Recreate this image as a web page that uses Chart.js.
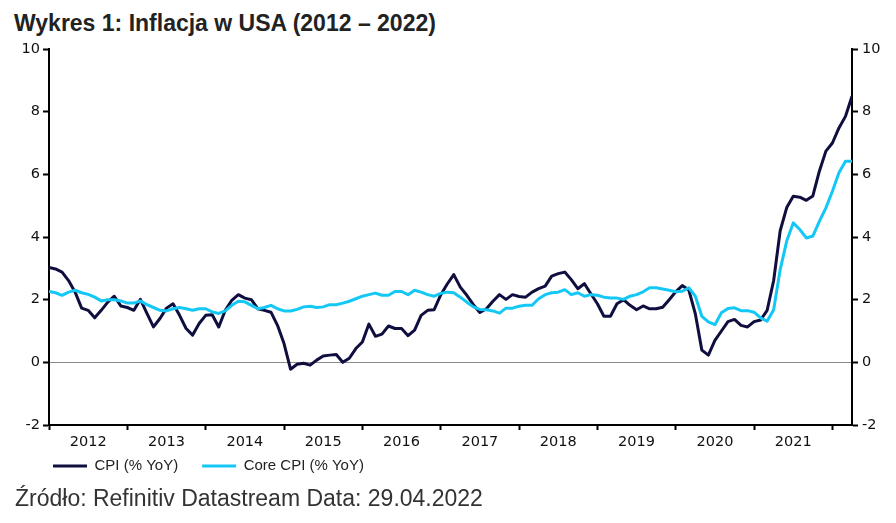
<!DOCTYPE html>
<html>
<head>
<meta charset="utf-8">
<script src="https://cdn.jsdelivr.net/npm/chart.js@4"></script>
<style>
  html, body { margin: 0; padding: 0; background: #fff; }
  body { width: 896px; height: 523px; position: relative; overflow: hidden; }
  #chart { position: absolute; left: 0; top: 0; }
  .title { position: absolute; left: 14px; top: 12px; font: bold 23px "Liberation Sans", Arial, sans-serif; line-height: 23px; color: #222; white-space: nowrap; }
  .source { position: absolute; left: 15px; top: 487px; font: 23px "Liberation Sans", Arial, sans-serif; line-height: 23px; color: #333; white-space: nowrap; }
</style>
</head>
<body>
<div class="title">Wykres 1: Inflacja w USA (2012 – 2022)</div>
<canvas id="chart" width="896" height="523"></canvas>
<div class="source">Źródło: Refinitiv Datastream Data: 29.04.2022</div>
<script>
// monthly, Dec 2011 .. Mar 2022
const years = ['2012', '2013', '2014', '2015', '2016', '2017', '2018', '2019', '2020', '2021'];

const cpi = [
    3.03,
    2.98, 2.88, 2.61, 2.24, 1.73, 1.66, 1.42, 1.66, 1.92, 2.11, 1.80, 1.75,
    1.66, 2.01, 1.56, 1.13, 1.40, 1.73, 1.87, 1.50, 1.08, 0.87, 1.24, 1.50,
    1.52, 1.13, 1.66, 1.98, 2.16, 2.05, 2.00, 1.71, 1.66, 1.60, 1.18, 0.60,
    -0.22, -0.06, -0.03, -0.09, 0.07, 0.20, 0.23, 0.25, 0.00, 0.13, 0.44, 0.65,
    1.22, 0.83, 0.90, 1.16, 1.08, 1.08, 0.85, 1.03, 1.50, 1.66, 1.68, 2.15,
    2.50, 2.80, 2.40, 2.14, 1.84, 1.59, 1.71, 1.95, 2.16, 2.01, 2.16, 2.10,
    2.08, 2.24, 2.35, 2.43, 2.75, 2.83, 2.88, 2.64, 2.35, 2.51, 2.19, 1.87,
    1.47, 1.47, 1.87, 2.00, 1.82, 1.68, 1.80, 1.71, 1.71, 1.76, 2.00, 2.25,
    2.45, 2.31, 1.55, 0.39, 0.23, 0.70, 1.00, 1.30, 1.37, 1.18, 1.13, 1.30,
    1.35, 1.66, 2.61, 4.20, 4.94, 5.30, 5.27, 5.17, 5.31, 6.10, 6.74, 7.00,
    7.48, 7.85, 8.49
];

const coreCpi = [
    2.26,
    2.22, 2.14, 2.24, 2.30, 2.22, 2.17, 2.08, 1.96, 2.00, 2.00, 1.96, 1.89,
    1.89, 1.96, 1.84, 1.75, 1.66, 1.64, 1.71, 1.75, 1.71, 1.66, 1.71, 1.71,
    1.61, 1.56, 1.64, 1.82, 1.95, 1.93, 1.82, 1.71, 1.75, 1.82, 1.71, 1.64,
    1.64, 1.69, 1.77, 1.79, 1.75, 1.77, 1.84, 1.84, 1.89, 1.95, 2.03, 2.11,
    2.16, 2.21, 2.14, 2.14, 2.26, 2.26, 2.16, 2.30, 2.24, 2.16, 2.11, 2.20,
    2.24, 2.22, 2.08, 1.92, 1.77, 1.69, 1.68, 1.64, 1.57, 1.73, 1.73, 1.79,
    1.82, 1.82, 2.03, 2.16, 2.22, 2.24, 2.32, 2.16, 2.22, 2.11, 2.16, 2.14,
    2.08, 2.05, 2.05, 2.01, 2.11, 2.16, 2.25, 2.38, 2.38, 2.34, 2.30, 2.25,
    2.27, 2.38, 2.11, 1.47, 1.29, 1.20, 1.58, 1.72, 1.74, 1.65, 1.65, 1.60,
    1.42, 1.31, 1.68, 2.96, 3.87, 4.45, 4.24, 3.97, 4.03, 4.50, 4.93, 5.46,
    6.05, 6.42, 6.42
];

const seriesNames = ['CPI (% YoY)', 'Core CPI (% YoY)'];

const tickFont = { family: 'DejaVu Sans', size: 14.5 };

// move the legend to where the original has it
const legendPos = {
    id: 'legendPos',
    afterLayout(chart) {
        chart.legend.left = 29;
        chart.legend.top = 434.5;
    }
};

const ctx = document.getElementById('chart');
new Chart(ctx, {
    type: 'line',
    data: {
        datasets: [{
            label: seriesNames[0],
            data: cpi.map((v, i) => ({ x: i, y: v })),
            borderColor: '#0f0e3f',
            backgroundColor: '#0f0e3f',
            borderWidth: 3,
            borderJoinStyle: 'round',
            pointRadius: 0,
            tension: 0,
            order: 1
        }, {
            label: seriesNames[1],
            data: coreCpi.map((v, i) => ({ x: i, y: v })),
            borderColor: '#14c8f5',
            backgroundColor: '#14c8f5',
            borderWidth: 3,
            borderJoinStyle: 'round',
            pointRadius: 0,
            tension: 0,
            order: 0
        }]
    },
    options: {
        responsive: false,
        animation: false,
        devicePixelRatio: 1,
        layout: { padding: { top: 49, right: 0, bottom: 19, left: 0 } },
        plugins: {
            tooltip: { enabled: false },
            legend: {
                position: 'bottom',
                align: 'start',
                labels: {
                    boxWidth: 34,
                    boxHeight: 3,
                    padding: 24,
                    color: '#222',
                    font: { family: 'Liberation Sans', size: 15 },
                    sort: (a, b) => a.datasetIndex - b.datasetIndex,
                    generateLabels: chart => Chart.defaults.plugins.legend.labels.generateLabels(chart)
                        .map(l => Object.assign(l, { lineWidth: 0 }))
                }
            }
        },
        scales: {
            x: {
                type: 'linear',
                min: 0,
                max: cpi.length - 1,
                afterBuildTicks: s => {
                    const t = [];
                    for (let v = 0; v <= s.max; v += 6) t.push({ value: v });
                    s.ticks = t;
                },
                afterFit: s => { s.height = 30; },
                ticks: {
                    autoSkip: false,
                    maxRotation: 0,
                    padding: 4,
                    color: '#111',
                    font: tickFont,
                    callback: v => (v % 12 === 6 ? years[(v - 6) / 12] : '')
                },
                grid: {
                    drawOnChartArea: false,
                    tickLength: 5,
                    tickWidth: 2,
                    tickColor: c => (c.tick && c.tick.value % 12 === 0 ? '#000' : 'rgba(0,0,0,0)')
                },
                border: { color: '#000', width: 2 }
            },
            y: {
                position: 'left',
                min: -2,
                max: 10,
                afterFit: s => { s.width = 49; },
                ticks: { stepSize: 2, padding: 3, color: '#111', font: tickFont },
                grid: {
                    color: c => (c.tick && c.tick.value === 0 ? '#8c8c8c' : 'rgba(0,0,0,0)'),
                    lineWidth: 1,
                    tickLength: 6,
                    tickWidth: 2,
                    tickColor: '#000'
                },
                border: { color: '#000', width: 2 }
            },
            y2: {
                position: 'right',
                min: -2,
                max: 10,
                afterFit: s => { s.width = 44; },
                ticks: { stepSize: 2, padding: 4, color: '#111', font: tickFont },
                grid: {
                    drawOnChartArea: false,
                    tickLength: 6,
                    tickWidth: 2,
                    tickColor: '#000'
                },
                border: { color: '#000', width: 2 }
            }
        }
    },
    plugins: [legendPos]
});
</script>
</body>
</html>
